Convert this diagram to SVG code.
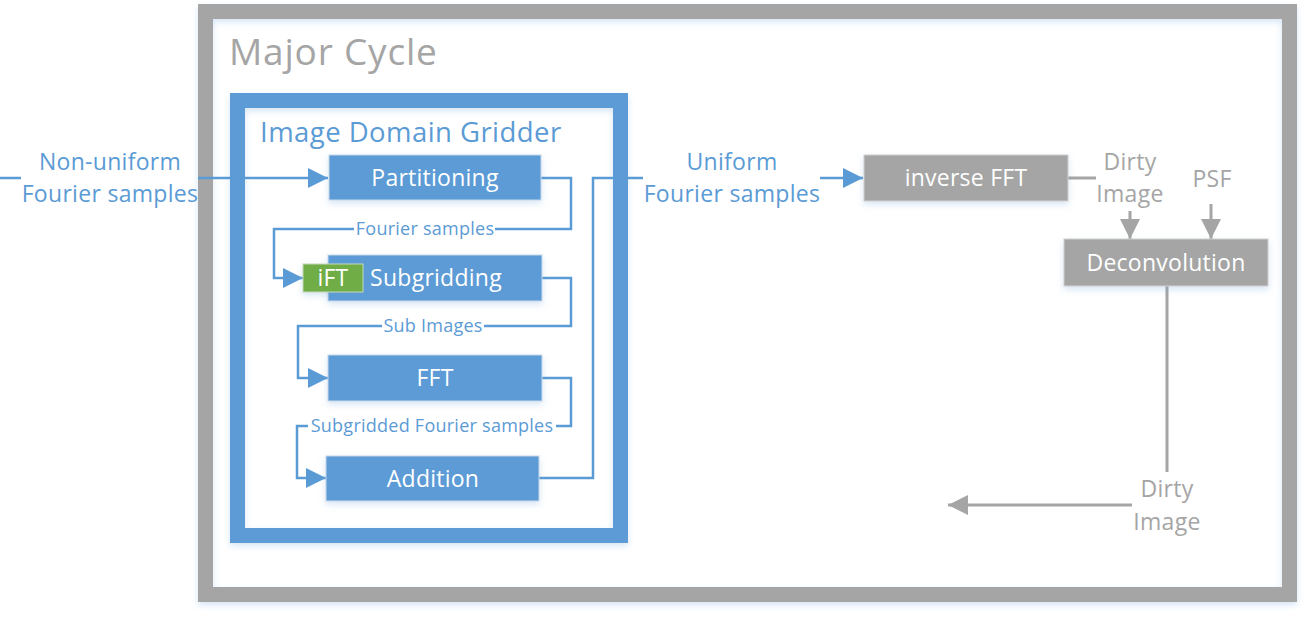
<svg xmlns="http://www.w3.org/2000/svg" width="1309" height="617" viewBox="0 0 1309 617">
<style>
text{font-family:"Open Sans","Noto Sans","DejaVu Sans",sans-serif;}
.bt{fill:#5B9BD5;font-size:23px;letter-spacing:0.3px;text-anchor:middle;}
.gt{fill:#A5A5A5;font-size:23px;letter-spacing:0.3px;text-anchor:middle;}
.wt{fill:#FFFFFF;font-size:23px;letter-spacing:0.25px;text-anchor:middle;}
.lbl{fill:#5B9BD5;font-size:18px;letter-spacing:0.25px;text-anchor:middle;}
.bl{fill:none;stroke:#5B9BD5;stroke-width:2.5;}
.gl{fill:none;stroke:#A5A5A5;stroke-width:3;}
</style>
<defs>
<filter id="sh" x="-10%" y="-20%" width="120%" height="150%">
<feDropShadow dx="0" dy="3" stdDeviation="3" flood-color="#5B9BD5" flood-opacity="0.25"/>
</filter>
<marker id="arB" viewBox="0 0 10 10" refX="10" refY="5" markerWidth="20" markerHeight="20" markerUnits="userSpaceOnUse" orient="auto"><path d="M0,0 L10,5 L0,10 z" fill="#5B9BD5"/></marker>
<marker id="arG" viewBox="0 0 10 10" refX="10" refY="5" markerWidth="20" markerHeight="20" markerUnits="userSpaceOnUse" orient="auto"><path d="M0,0 L10,5 L0,10 z" fill="#A5A5A5"/></marker>
</defs>
<rect width="1309" height="617" fill="#FFFFFF"/>

<g id="major-cycle">
<rect x="205.5" y="11.5" width="1084" height="583" fill="none" stroke="#A5A5A5" stroke-width="15" filter="url(#sh)"/>
<text x="229" y="65" font-size="37" letter-spacing="0.8" fill="#A5A5A5">Major Cycle</text>
</g>

<g id="image-domain-gridder">
<rect x="237.5" y="100.5" width="383" height="435" fill="none" stroke="#5B9BD5" stroke-width="15" filter="url(#sh)"/>
<text x="260" y="142" font-size="27.5" letter-spacing="0.45" fill="#5B9BD5">Image Domain Gridder</text>
</g>

<g id="connectors">
<line class="bl" x1="0" y1="178" x2="21" y2="178"/>
<line class="bl" x1="198" y1="178" x2="328" y2="178" marker-end="url(#arB)"/>
<polyline class="bl" points="541,178 571,178 571,229 274,229 274,278 303,278" marker-end="url(#arB)"/>
<polyline class="bl" points="542,278 571,278 571,326 298,326 298,378 328,378" marker-end="url(#arB)"/>
<polyline class="bl" points="542,378 571,378 571,426 297,426 297,478 326,478" marker-end="url(#arB)"/>
<polyline class="bl" points="539,478 593,478 593,178 643,178"/>
<line class="bl" x1="820" y1="178" x2="863" y2="178" marker-end="url(#arB)"/>
<line class="gl" x1="1068" y1="178" x2="1096" y2="178"/>
<line class="gl" x1="1130" y1="211" x2="1130" y2="239" marker-end="url(#arG)"/>
<line class="gl" x1="1211" y1="204" x2="1211" y2="239" marker-end="url(#arG)"/>
<line class="gl" x1="1167" y1="286" x2="1167" y2="472"/>
<line class="gl" x1="1132" y1="505" x2="948" y2="505" marker-end="url(#arG)"/>
</g>

<g id="edge-labels">
<text class="bt" x="110" y="170">Non-uniform</text>
<text class="bt" x="110" y="202">Fourier samples</text>
<rect x="354" y="219" width="141" height="20" fill="#FFFFFF"/>
<text class="lbl" x="425" y="235">Fourier samples</text>
<rect x="382" y="316" width="102" height="20" fill="#FFFFFF"/>
<text class="lbl" x="433" y="332">Sub Images</text>
<rect x="308" y="416" width="248" height="20" fill="#FFFFFF"/>
<text class="lbl" x="432" y="432">Subgridded Fourier samples</text>
<text class="bt" x="732" y="170">Uniform</text>
<text class="bt" x="732" y="202">Fourier samples</text>
<text class="gt" x="1130" y="170">Dirty</text>
<text class="gt" x="1130" y="202">Image</text>
<text class="gt" x="1212" y="187">PSF</text>
<text class="gt" x="1167" y="497">Dirty</text>
<text class="gt" x="1167" y="530">Image</text>
</g>

<g id="partitioning">
<rect x="329" y="155" width="212" height="45" fill="#5B9BD5" stroke="#C8D8EA" stroke-width="1" filter="url(#sh)"/>
<text class="wt" x="435" y="186">Partitioning</text>
</g>
<g id="subgridding">
<rect x="328" y="255" width="214" height="46" fill="#5B9BD5" stroke="#C8D8EA" stroke-width="1" filter="url(#sh)"/>
<text class="wt" x="436" y="286">Subgridding</text>
</g>
<g id="ift">
<rect x="303" y="264" width="60" height="28" fill="#70AD47" stroke="#C5D9B8" stroke-width="1" filter="url(#sh)"/>
<text class="wt" x="333" y="286">iFT</text>
</g>
<g id="fft">
<rect x="328" y="355" width="214" height="46" fill="#5B9BD5" stroke="#C8D8EA" stroke-width="1" filter="url(#sh)"/>
<text class="wt" x="435" y="386">FFT</text>
</g>
<g id="addition">
<rect x="326" y="456" width="213" height="45" fill="#5B9BD5" stroke="#C8D8EA" stroke-width="1" filter="url(#sh)"/>
<text class="wt" x="433" y="487">Addition</text>
</g>
<g id="inverse-fft">
<rect x="864" y="155" width="204" height="46" fill="#A5A5A5" stroke="#D0D0D0" stroke-width="1" filter="url(#sh)"/>
<text class="wt" x="966" y="186">inverse FFT</text>
</g>
<g id="deconvolution">
<rect x="1064" y="239" width="204" height="47" fill="#A5A5A5" stroke="#D0D0D0" stroke-width="1" filter="url(#sh)"/>
<text class="wt" x="1166" y="271">Deconvolution</text>
</g>
</svg>
